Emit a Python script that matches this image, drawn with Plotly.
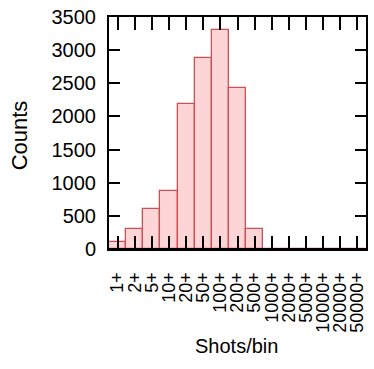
import plotly.graph_objects as go

categories = ["1+", "2+", "5+", "10+", "20+", "50+", "100+", "200+", "500+",
              "1000+", "2000+", "5000+", "10000+", "20000+", "50000+"]
counts = [100, 300, 600, 880, 2190, 2880, 3310, 2430, 300, 0, 0, 0, 0, 0, 0]
y_ticks = [0, 500, 1000, 1500, 2000, 2500, 3000, 3500]

FONT = "Liberation Sans, Arial, Helvetica, sans-serif"

fig = go.Figure()
fig.add_trace(go.Bar(
    x=categories, y=counts,
    marker=dict(color="#fdd5d6", line=dict(color="#cf4f55", width=1.3)),
    hoverinfo="skip",
))

fig.update_layout(
    width=374, height=369,
    margin=dict(l=109, r=6, t=15, b=120),
    paper_bgcolor="white", plot_bgcolor="white",
    bargap=0,
    showlegend=False,
    font=dict(family=FONT, color="black"),
    xaxis=dict(
        type="category", range=[-0.5, 14.5],
        tickmode="array", tickvals=categories, ticktext=categories,
        showline=True, linecolor="black", linewidth=2, mirror="ticks",
        ticks="inside", ticklen=13, tickwidth=2, tickcolor="black",
        tickangle=-90, tickfont=dict(family=FONT, size=18, color="black"),
        showgrid=False, zeroline=False,
        ticklabelstandoff=14,
    ),
    yaxis=dict(
        range=[0, 3500], tickvals=y_ticks,
        showline=True, linecolor="black", linewidth=2, mirror="ticks",
        ticks="inside", ticklen=11, tickwidth=2, tickcolor="black",
        tickfont=dict(family=FONT, size=20, color="black"),
        showgrid=False, zeroline=False,
        ticklabelstandoff=7,
    ),
    annotations=[
        dict(text="Counts", xref="paper", yref="paper", x=-0.35, y=0.49,
             xanchor="center", yanchor="middle", textangle=-90, showarrow=False,
             font=dict(family=FONT, size=22, color="black")),
        dict(text="Shots/bin", xref="paper", yref="paper", x=0.498, y=-0.419,
             xanchor="center", yanchor="middle", showarrow=False,
             font=dict(family=FONT, size=20, color="black")),
    ],
    shapes=[
        dict(type="line", xref="paper", yref="paper", x0=0, x1=1, y0=0, y1=0,
             line=dict(color="black", width=2), layer="above"),
    ],
)

fig.write_html("out.html")
